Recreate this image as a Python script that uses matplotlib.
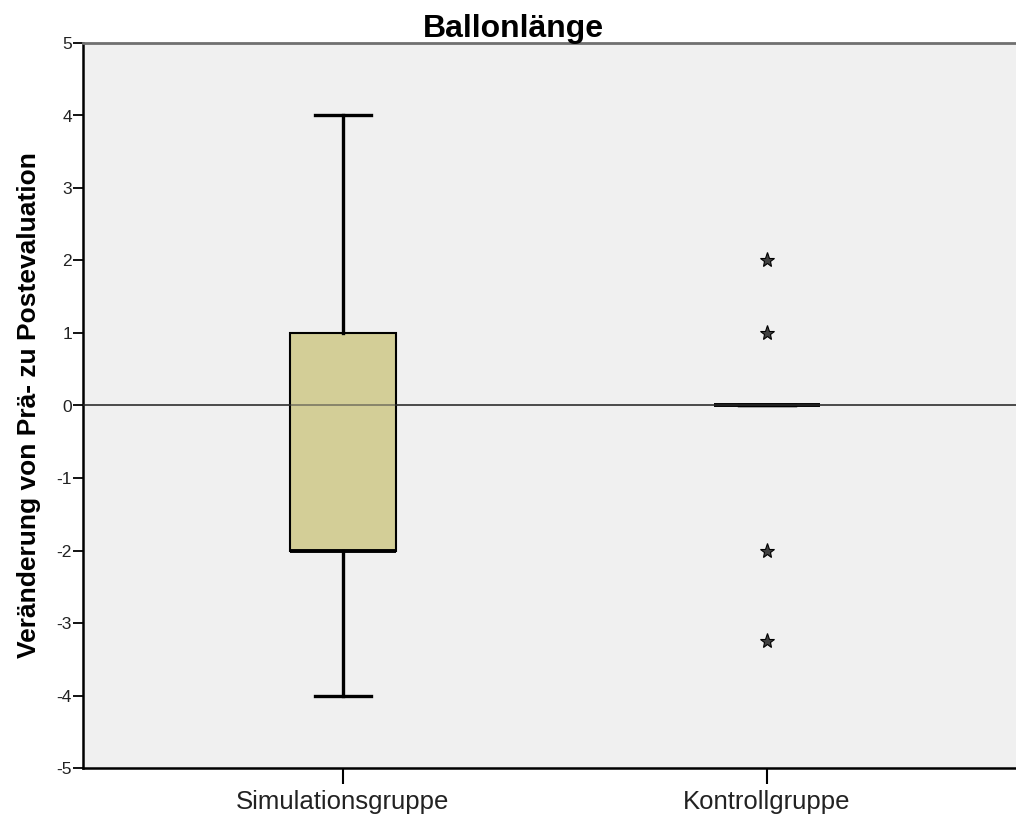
import matplotlib
matplotlib.use("Agg")
from matplotlib import pyplot as plt

groups = ["Simulationsgruppe", "Kontrollgruppe"]
med = [-2, 0]
q1 = [-2, 0]
q3 = [1, 0]
whislo = [-4, 0]
whishi = [4, 0]
fliers = [[], [2, 1, -2, -3.25]]

stats = []
for i in range(len(groups)):
    stats.append(dict(label=groups[i], med=med[i], q1=q1[i], q3=q3[i],
                      whislo=whislo[i], whishi=whishi[i], fliers=fliers[i]))

plt.rcParams['font.family'] = ['Liberation Sans', 'DejaVu Sans']
plt.rcParams['axes.unicode_minus'] = False

fig = plt.figure(figsize=(10.16, 8.21), dpi=100)
ax = fig.add_axes([83/1016, 53/821, 1 - 83/1016, 725/821])
ax.set_facecolor('#f0f0f0')

# reference line at zero, behind and over the box
ax.axhline(0, color='#404040', lw=1.2, zorder=1)

ax.bxp(stats, positions=[1, 2], widths=0.252, patch_artist=True,
       boxprops=dict(facecolor='#d3ce97', edgecolor='black', lw=1.5),
       medianprops=dict(color='black', lw=2.8),
       whiskerprops=dict(color='black', lw=2.4),
       capprops=dict(color='black', lw=2.4),
       capwidths=0.13,
       flierprops=dict(marker='*', markersize=11, markeredgecolor='black',
                       markerfacecolor='#404040', markeredgewidth=0.8, linestyle='none'),
       zorder=2)
ax.axhline(0, color='#404040', lw=1.2, alpha=0.6, zorder=3)

ax.set_xlim(0.387, 2.587)
ax.set_ylim(-5, 5)
ax.set_yticks(range(-5, 6))
ax.tick_params(axis='y', labelsize=12.5, length=7, width=1.3, pad=1, labelcolor='#222222')
ax.tick_params(axis='x', labelsize=18.5, length=11.5, width=1.5, pad=4, labelcolor='#222222')
ax.spines['right'].set_visible(False)
ax.spines['top'].set_color('#707070')
ax.spines['top'].set_linewidth(2)
ax.spines['left'].set_linewidth(1.8)
ax.spines['bottom'].set_linewidth(1.8)

ax.set_ylabel('Veränderung von Prä- zu Postevaluation', fontsize=19, fontweight='bold')
ax.yaxis.set_label_coords(-0.045, 0.5)
fig.text(513/1016, (821 - 37)/821, 'Ballonlänge', fontsize=23, fontweight='bold',
         ha='center', va='baseline')

fig.savefig('out.png', dpi=100)
